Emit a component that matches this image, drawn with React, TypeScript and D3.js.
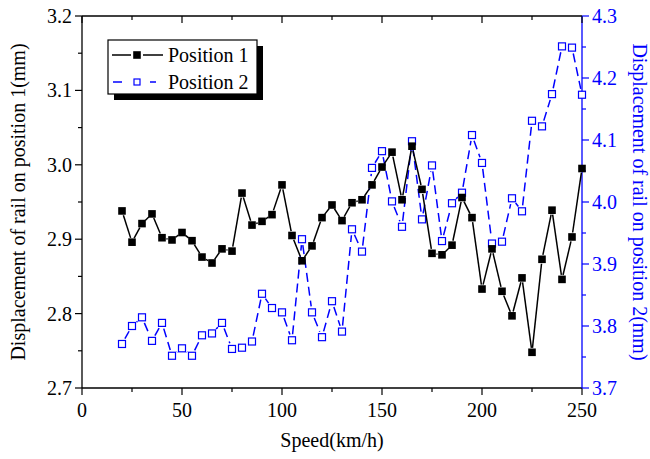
import * as d3 from 'd3'

// Speeds (km/h) at which both positions were measured
const speeds = [
  20, 25, 30, 35, 40, 45, 50, 55, 60, 65, 70, 75, 80, 85, 90, 95, 100, 105, 110, 115, 120, 125, 130, 135,
  140, 145, 150, 155, 160, 165, 170, 175, 180, 185, 190, 195, 200, 205, 210, 215, 220, 225, 230, 235, 240, 245, 250,
]

// Position 1 (left axis, mm)
const position1 = [
  2.938, 2.896, 2.921, 2.934, 2.902, 2.899, 2.909, 2.898, 2.876, 2.868, 2.887, 2.884, 2.962, 2.919, 2.924, 2.933,
  2.973, 2.905, 2.871, 2.891, 2.929, 2.946, 2.925, 2.949, 2.953, 2.973, 2.997, 3.017, 2.953, 3.025, 2.967, 2.881,
  2.879, 2.892, 2.956, 2.929, 2.833, 2.887, 2.83, 2.797, 2.848, 2.748, 2.873, 2.939, 2.846, 2.903, 2.995,
]

// Position 2 (right axis, mm)
const position2 = [
  3.771, 3.8, 3.814, 3.776, 3.805, 3.752, 3.764, 3.752, 3.785, 3.788, 3.805, 3.763, 3.765, 3.775, 3.852, 3.829,
  3.822, 3.777, 3.94, 3.822, 3.782, 3.84, 3.791, 3.956, 3.92, 4.055, 4.082, 4.001, 3.96, 4.098, 3.972, 4.059,
  3.937, 3.998, 4.015, 4.108, 4.063, 3.933, 3.936, 4.006, 3.985, 4.131, 4.122, 4.174, 4.251, 4.249, 4.173,
]

const xTicks = [0, 50, 100, 150, 200, 250]
const xMinor = [25, 75, 125, 175, 225]
const leftTicks = [2.7, 2.8, 2.9, 3.0, 3.1, 3.2]
const rightTicks = [3.7, 3.8, 3.9, 4.0, 4.1, 4.2, 4.3]

const W = 650
const H = 459
const M = { left: 82, right: 582, top: 16, bottom: 388 }
const FONT = '"Liberation Serif", "Times New Roman", serif'
const BLUE = '#0000ff'

// shorten a segment at both ends so the line stops short of the markers
function gapSegment(x1: number, y1: number, x2: number, y2: number, g: number) {
  const dx = x2 - x1
  const dy = y2 - y1
  const len = Math.sqrt(dx * dx + dy * dy)
  if (len <= 2 * g) return null
  const ux = dx / len
  const uy = dy / len
  return [x1 + ux * g, y1 + uy * g, x2 - ux * g, y2 - uy * g]
}

export default function App() {
  const x = d3.scaleLinear().domain([0, 250]).range([M.left, M.right])
  const yL = d3.scaleLinear().domain([2.7, 3.2]).range([M.bottom, M.top])
  const yR = d3.scaleLinear().domain([3.7, 4.3]).range([M.bottom, M.top])

  const p1 = speeds.map((s, i) => [x(s), yL(position1[i])])
  const p2 = speeds.map((s, i) => [x(s), yR(position2[i])])

  const segs1 = p1.slice(1).map((p, i) => gapSegment(p1[i][0], p1[i][1], p[0], p[1], 4.5)).filter(Boolean) as number[][]
  const segs2 = p2.slice(1).map((p, i) => gapSegment(p2[i][0], p2[i][1], p[0], p[1], 6)).filter(Boolean) as number[][]

  const leftMinor = d3.range(2.75, 3.2, 0.1)
  const rightMinor = d3.range(3.75, 4.3, 0.1)

  return (
    <svg width={W} height={H} style={{ position: 'absolute', left: 0, top: 0, background: '#fff' }} fontFamily={FONT}>
      {/* frame */}
      <line x1={M.left} x2={M.right} y1={M.top} y2={M.top} stroke="#000" strokeWidth={1.3} />
      <line x1={M.left} x2={M.right} y1={M.bottom} y2={M.bottom} stroke="#000" strokeWidth={1.3} />
      <line x1={M.left} x2={M.left} y1={M.top} y2={M.bottom} stroke="#000" strokeWidth={1.3} />
      <line x1={M.right} x2={M.right} y1={M.top} y2={M.bottom} stroke={BLUE} strokeWidth={1.3} />

      {/* x ticks bottom (out) and top (in) */}
      {xTicks.map(t => (
        <g key={'xt' + t}>
          <line x1={x(t)} x2={x(t)} y1={M.bottom} y2={M.bottom + 7} stroke="#000" strokeWidth={1.2} />
          <line x1={x(t)} x2={x(t)} y1={M.top} y2={M.top + 7} stroke="#000" strokeWidth={1.2} />
          <text x={x(t)} y={M.bottom + 29} textAnchor="middle" fontSize={20} fill="#000">{t}</text>
        </g>
      ))}
      {xMinor.map(t => (
        <g key={'xm' + t}>
          <line x1={x(t)} x2={x(t)} y1={M.bottom} y2={M.bottom + 4} stroke="#000" strokeWidth={1.2} />
          <line x1={x(t)} x2={x(t)} y1={M.top} y2={M.top + 4} stroke="#000" strokeWidth={1.2} />
        </g>
      ))}

      {/* left axis */}
      {leftTicks.map(t => (
        <g key={'lt' + t}>
          <line x1={M.left - 7} x2={M.left} y1={yL(t)} y2={yL(t)} stroke="#000" strokeWidth={1.2} />
          <text x={M.left - 10} y={yL(t) + 7} textAnchor="end" fontSize={20} fill="#000">{t.toFixed(1)}</text>
        </g>
      ))}
      {leftMinor.map(t => (
        <line key={'lm' + t} x1={M.left - 4} x2={M.left} y1={yL(t)} y2={yL(t)} stroke="#000" strokeWidth={1.2} />
      ))}

      {/* right axis */}
      {rightTicks.map(t => (
        <g key={'rt' + t}>
          <line x1={M.right} x2={M.right + 7} y1={yR(t)} y2={yR(t)} stroke={BLUE} strokeWidth={1.2} />
          <text x={M.right + 10} y={yR(t) + 7} textAnchor="start" fontSize={20} fill={BLUE}>{t.toFixed(1)}</text>
        </g>
      ))}
      {rightMinor.map(t => (
        <line key={'rm' + t} x1={M.right} x2={M.right + 4} y1={yR(t)} y2={yR(t)} stroke={BLUE} strokeWidth={1.2} />
      ))}

      {/* axis titles */}
      <text x={(M.left + M.right) / 2} y={447} textAnchor="middle" fontSize={20} fill="#000">Speed(km/h)</text>
      <text transform={`translate(25,${(M.top + M.bottom) / 2}) rotate(-90)`} textAnchor="middle" fontSize={20} fill="#000">
        Displacement of rail on position 1(mm)
      </text>
      <text transform={`translate(633,${(M.top + M.bottom) / 2}) rotate(90)`} textAnchor="middle" fontSize={20} fill={BLUE}>
        Displacement of rail on position 2(mm)
      </text>

      {/* Position 2 series */}
      {segs2.map((s, i) => (
        <line key={'s2' + i} x1={s[0]} y1={s[1]} x2={s[2]} y2={s[3]} stroke={BLUE} strokeWidth={1.5} strokeDasharray="9,5" />
      ))}
      {p2.map((p, i) => (
        <rect key={'m2' + i} x={p[0] - 3.5} y={p[1] - 3.5} width={7} height={7} fill="#fff" stroke={BLUE} strokeWidth={1.2} />
      ))}

      {/* Position 1 series */}
      {segs1.map((s, i) => (
        <line key={'s1' + i} x1={s[0]} y1={s[1]} x2={s[2]} y2={s[3]} stroke="#000" strokeWidth={1.5} />
      ))}
      {p1.map((p, i) => (
        <rect key={'m1' + i} x={p[0] - 3.8} y={p[1] - 3.8} width={7.6} height={7.6} fill="#000" />
      ))}

      {/* legend */}
      <rect x={114} y={46} width={149} height={54} fill="#000" />
      <rect x={108} y={40} width={149} height={54} fill="#fff" stroke="#000" strokeWidth={1.2} />
      <line x1={112} x2={131} y1={55} y2={55} stroke="#000" strokeWidth={1.5} />
      <line x1={143} x2={163} y1={55} y2={55} stroke="#000" strokeWidth={1.5} />
      <rect x={133.2} y={51.2} width={7.6} height={7.6} fill="#000" />
      <text x={168} y={62} fontSize={20} fill="#000">Position 1</text>
      <line x1={113} x2={122} y1={82} y2={82} stroke={BLUE} strokeWidth={1.5} />
      <line x1={150} x2={156} y1={82} y2={82} stroke={BLUE} strokeWidth={1.5} />
      <rect x={134} y={79} width={6} height={6} fill="#fff" stroke={BLUE} strokeWidth={1.2} />
      <text x={168} y={89} fontSize={20} fill="#000">Position 2</text>
    </svg>
  )
}
